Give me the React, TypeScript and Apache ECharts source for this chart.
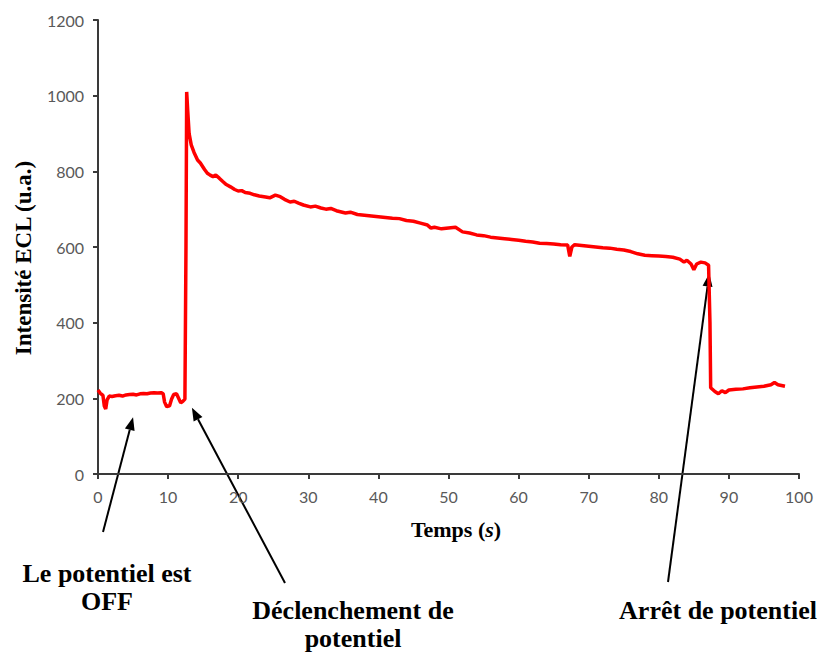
import React, { useEffect, useRef } from "react";
import * as echarts from "echarts";

// Time (s) and ECL intensity (u.a.)
const timeS: number[] = [
  0, 0.3, 0.7, 0.9, 1.1, 1.3, 1.6, 2, 2.5, 3, 3.5, 4, 4.5, 5, 5.5, 6, 6.5, 7, 7.5, 8, 8.5, 9, 9.3, 9.5, 9.8,
  10.2, 10.5, 10.8, 11.2, 11.5, 11.8, 12.1, 12.4, 12.55, 12.65, 12.8, 13.0, 13.3, 13.7, 14.2, 14.6, 15.2,
  15.6, 16, 16.4, 16.8, 17.3, 17.8, 18.3, 18.9, 19.5, 20, 20.5, 21, 21.7, 22.3, 23, 23.9, 24.5, 25.3, 26,
  26.6, 27.4, 28, 28.6, 29.3, 30.3, 31, 31.8, 32.5, 33.2, 34, 35.3, 36, 37, 38, 39, 40, 41, 42, 43, 44, 45,
  46, 47, 47.5, 48, 49, 50, 51, 52, 53, 54, 55, 56, 57, 58, 59, 60, 61, 62, 63, 64, 65, 66, 67, 67.3, 67.6,
  68, 69, 70, 71, 72, 73, 74, 75, 76, 77, 78, 79, 80, 81, 82, 83, 83.6, 84, 84.6, 85, 85.4, 86, 86.6, 87.1,
  87.3, 87.4, 88, 88.5, 89, 89.5, 90, 91, 92, 93, 94, 95, 96, 96.5, 97, 98,
];
const intensity: number[] = [
  222, 214, 208, 180, 172, 196, 206, 205, 207, 208, 206, 209, 210, 211, 209, 212, 213, 212, 214, 215, 214,
  215, 212, 190, 178, 180, 198, 210, 212, 200, 188, 192, 198, 600, 1010, 960, 900, 870, 850, 830, 822, 805,
  795, 790, 786, 790, 782, 773, 765, 759, 752, 748, 749, 744, 742, 738, 735, 732, 730, 737, 733, 726, 719,
  721, 716, 711, 706, 708, 703, 700, 702, 696, 690, 692, 686, 684, 682, 680, 678, 676, 675, 670, 668, 663,
  658, 650, 652, 648, 650, 652, 640, 637, 632, 630, 626, 624, 622, 620, 618, 615, 613, 610, 609, 608, 606,
  605, 575, 600, 606, 604, 602, 600, 598, 597, 594, 592, 588, 582, 578, 577, 576, 575, 573, 568, 560, 565,
  555, 540, 555, 560, 558, 552, 400, 228, 218, 212, 220, 215, 222, 224, 225, 228, 230, 232, 236, 242, 236,
  232,
];

const xTicks = { min: 0, max: 100, interval: 10 };
const yTicks = { min: 0, max: 1200, interval: 200 };

// annotation lines (text, centre x, centre y)
const annotations: [string, number, number][] = [
  ["Le potentiel est", 107, 573],
  ["OFF", 107, 601],
  ["Déclenchement de", 353, 610],
  ["potentiel", 353, 638],
  ["Arrêt de potentiel", 718, 610],
];

// annotation arrows: tip in data coordinates, tail in pixels (near the labels)
const arrowTipsData: [number, number][] = [
  [5, 150],
  [13.4, 175],
  [87.2, 530],
];
const arrowTailsPx: [number, number][] = [
  [103, 532],
  [285, 583],
  [668, 582],
];

const serif = "Liberation Serif";
const W = 819;
const H = 652;

function baseOption(data: number[][]) {
  const axisColor = "#3a3a3a";
  const labelStyle = {
    color: "#595959",
    fontSize: 16,
    fontFamily: "Lato",
    fontWeight: "normal",
    formatter: (v: number) => String(v),
  };
  return {
    animation: false,
    textStyle: { fontFamily: serif },
    grid: { left: 98, right: 20, top: 20, bottom: 178, containLabel: false },
    title: annotations.map(([text, cx, cy]) => ({
      text,
      left: cx,
      top: cy,
      padding: 0,
      textAlign: "center",
      textVerticalAlign: "middle",
      textStyle: { fontFamily: serif, fontSize: 26, fontWeight: "bold", color: "#000" },
    })),
    xAxis: {
      type: "value",
      ...xTicks,
      name: "Temps ({i|s})",
      nameLocation: "middle",
      nameGap: 44,
      nameTextStyle: {
        fontFamily: serif,
        fontSize: 22,
        fontWeight: "bold",
        color: "#000",
        padding: [0, 0, 0, 15],
        rich: {
          i: { fontFamily: serif, fontSize: 22, fontWeight: "bold", fontStyle: "italic", color: "#000" },
        },
      },
      axisLine: { show: true, lineStyle: { color: axisColor, width: 2 } },
      axisTick: { show: true, length: 5, lineStyle: { color: axisColor, width: 2 } },
      axisLabel: { ...labelStyle, margin: 14 },
      splitLine: { show: false },
    },
    yAxis: {
      type: "value",
      ...yTicks,
      name: "Intensité ECL (u.a.)",
      nameLocation: "middle",
      nameGap: 63,
      nameTextStyle: {
        fontFamily: serif,
        fontSize: 23,
        fontWeight: "bold",
        color: "#000",
        padding: [0, 22, 0, 0],
      },
      axisLine: { show: true, lineStyle: { color: axisColor, width: 2 } },
      axisTick: { show: true, length: 5, lineStyle: { color: axisColor, width: 2 } },
      axisLabel: { ...labelStyle, margin: 14 },
      splitLine: { show: false },
    },
    series: [
      {
        type: "line",
        data,
        showSymbol: false,
        symbol: "none",
        lineStyle: { color: "#ff0000", width: 3.5 },
      },
    ],
  };
}

export default function App() {
  const ref = useRef<HTMLDivElement>(null);
  useEffect(() => {
    if (!ref.current) return;
    const data = timeS.map((t, i) => [t, intensity[i]]);

    // measure arrow tips with the library's own scales on a throwaway instance
    const probeDiv = document.createElement("div");
    const probe = echarts.init(probeDiv, undefined, { renderer: "svg", width: W, height: H });
    probe.setOption(baseOption(data));
    const tips = arrowTipsData.map((d) => probe.convertToPixel({ gridIndex: 0 }, d) as number[]);
    probe.dispose();

    const chart = echarts.init(ref.current, undefined, { renderer: "svg" });

    const graphics: any[] = [];
    tips.forEach((tip, i) => {
      const tail = arrowTailsPx[i];
      const dx = tip[0] - tail[0];
      const dy = tip[1] - tail[1];
      const len = Math.sqrt(dx * dx + dy * dy);
      const ux = dx / len;
      const uy = dy / len;
      const headLen = 13;
      const headW = 5;
      const bx = tip[0] - ux * headLen;
      const by = tip[1] - uy * headLen;
      graphics.push({
        type: "line",
        shape: { x1: tail[0], y1: tail[1], x2: bx, y2: by },
        style: { stroke: "#000", lineWidth: 2 },
      });
      graphics.push({
        type: "polygon",
        shape: {
          points: [
            [tip[0], tip[1]],
            [bx - uy * headW, by + ux * headW],
            [bx + uy * headW, by - ux * headW],
          ],
        },
        style: { fill: "#000" },
      });
    });

    chart.setOption({ ...baseOption(data), graphic: graphics });
    return () => chart.dispose();
  }, []);
  return <div ref={ref} style={{ width: W, height: H, position: "absolute", left: 0, top: 0 }} />;
}
